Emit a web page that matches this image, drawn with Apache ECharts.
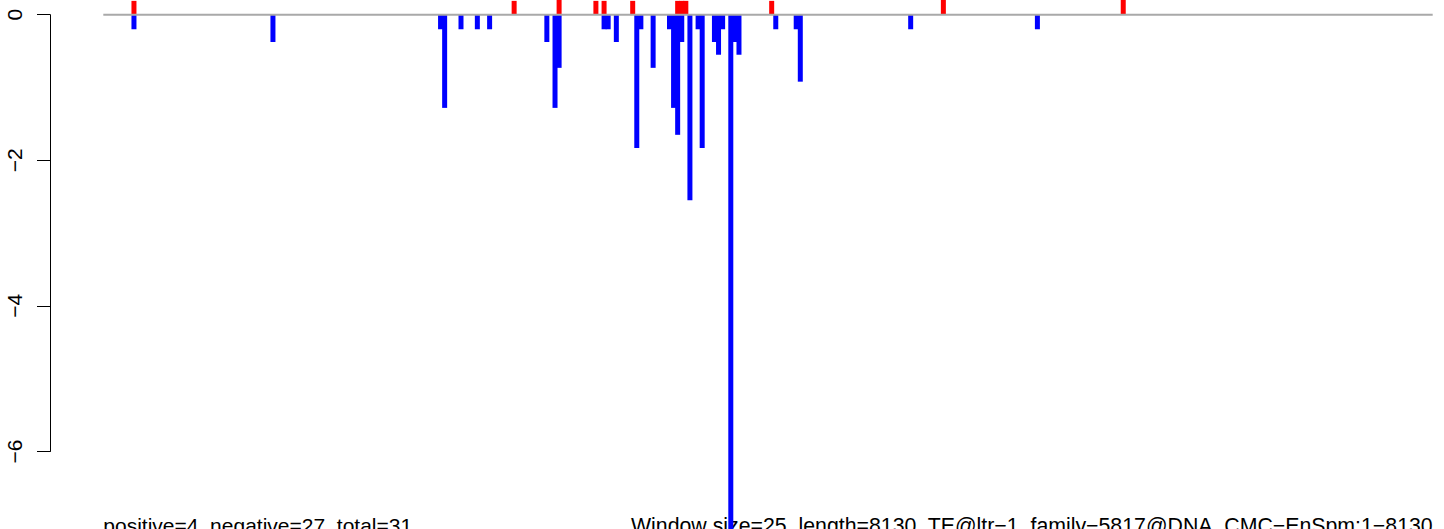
<!DOCTYPE html>
<html>
<head>
<meta charset="utf-8">
<script src="https://cdn.jsdelivr.net/npm/echarts@6/dist/echarts.min.js"></script>
<style>
html,body{margin:0;padding:0;background:#fff;overflow:hidden;}
#chart{width:1444px;height:529px;}
</style>
</head>
<body>
<div id="chart"></div>
<script>
// ---- data ----
const windowSize = 25;
const seqLength = 8130;
const yTicks = [0, -2, -4, -6];
const negWindows = [7, 41, 82, 83, 87, 91, 94, 108, 110, 111, 122, 123, 125, 130, 131, 134, 138, 139, 140, 141, 143, 145, 146, 149, 150, 151, 153, 154, 155, 164, 169, 170, 197, 228];
const negValues = [-0.2, -0.375, -0.2, -1.28, -0.2, -0.2, -0.2, -0.375, -1.28, -0.73, -0.2, -0.2, -0.375, -1.83, -0.2, -0.73, -0.2, -1.28, -1.65, -0.375, -2.55, -0.2, -1.83, -0.375, -0.55, -0.2, -7.3, -0.375, -0.55, -0.2, -0.2, -0.92, -0.2, -0.2];
const posWindows = [7, 100, 111, 120, 122, 129, 140, 141, 142, 163, 205, 249];
const posValues = [0.19, 0.19, 0.3, 0.19, 0.19, 0.19, 0.19, 0.19, 0.19, 0.19, 0.3, 0.3];
const leftText = 'positive=4, negative=27, total=31';
const rightText = 'Window size=25, length=8130, TE@ltr\u22121_family\u22125817@DNA_CMC\u2212EnSpm:1\u22128130';

// ---- layout helpers ----
const W = 1444, H = 529;
const x0px = 103.3, x1px = 1432.7;          // pixel span of 0..seqLength
const pxPerBp = (x1px - x0px) / seqLength;
const y0px = 14.7, pxPerUnit = 72.8;         // y=0 pixel and scale
const FONT = '"Liberation Sans", Arial, Helvetica, sans-serif';

const toPairs = (ws, vs) => ws.map((k, i) => [(k + 0.5) * windowSize, vs[i]]);

const chart = echarts.init(document.getElementById('chart'), null, {renderer: 'svg'});
chart.setOption({
  animation: false,
  backgroundColor: '#ffffff',
  grid: [
    {left: 0, right: 0, top: 0, bottom: 0},
    {left: 50, width: 1, top: y0px, height: 6 * pxPerUnit}
  ],
  xAxis: [
    {type: 'value', gridIndex: 0, min: -x0px / pxPerBp, max: (W - x0px) / pxPerBp, show: false},
    {type: 'value', gridIndex: 1, min: 0, max: 1, show: false}
  ],
  yAxis: [
    {type: 'value', gridIndex: 0, max: y0px / pxPerUnit, min: -(H - y0px) / pxPerUnit, show: false},
    {
      type: 'value', gridIndex: 1, min: -6, max: 0, interval: 2,
      splitLine: {show: false},
      axisLine: {show: true, lineStyle: {color: '#000', width: 1}},
      axisTick: {show: true, length: 13, lineStyle: {color: '#000', width: 1}},
      axisLabel: {
        rotate: 90, fontSize: 21, fontFamily: FONT, color: '#000', margin: 25,
        formatter: v => (v < 0 ? '\u2212' + Math.abs(v) : String(v))
      }
    }
  ],
  series: [
    {
      type: 'bar', xAxisIndex: 0, yAxisIndex: 0, barWidth: 5, barGap: '-100%',
      itemStyle: {color: '#0000FF'}, data: toPairs(negWindows, negValues), clip: true
    },
    {
      type: 'bar', xAxisIndex: 0, yAxisIndex: 0, barWidth: 5, barGap: '-100%',
      itemStyle: {color: '#FF0000'}, data: toPairs(posWindows, posValues), clip: true
    },
    {
      type: 'line', xAxisIndex: 0, yAxisIndex: 0, symbol: 'none', silent: true,
      lineStyle: {color: '#A9A9A9', width: 2}, data: [[0, 0], [seqLength, 0]], z: 5
    }
  ],
  graphic: [
    {type: 'text', x: x0px, y: 525.5, style: {text: leftText, font: '21px ' + FONT, fill: '#000', align: 'left', verticalAlign: 'middle'}},
    {type: 'text', x: x1px, y: 525.5, style: {text: rightText, font: '21.3px ' + FONT, fill: '#000', align: 'right', verticalAlign: 'middle'}}
  ]
});
</script>
</body>
</html>
